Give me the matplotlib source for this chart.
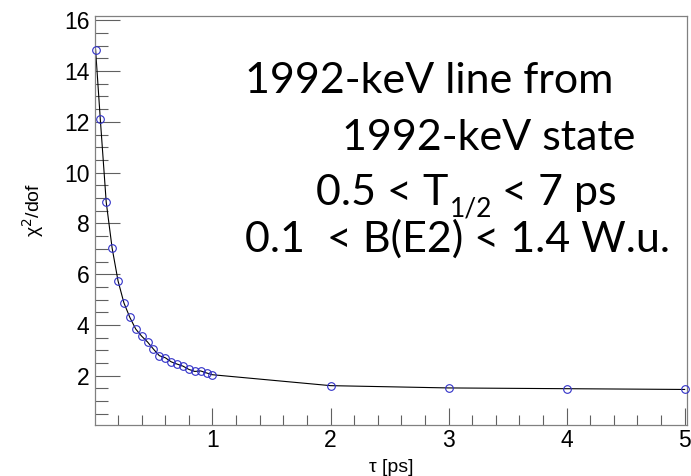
import matplotlib
matplotlib.use("Agg")
import matplotlib.pyplot as plt
from matplotlib.ticker import MultipleLocator, FixedLocator

# chi2/dof scan versus lifetime tau
tau = [0.01, 0.05, 0.10, 0.15, 0.20, 0.25, 0.30, 0.35, 0.40, 0.45, 0.50,
       0.55, 0.60, 0.65, 0.70, 0.75, 0.80, 0.85, 0.90, 0.95, 1.00,
       2.0, 3.0, 4.0, 5.0]
chi2 = [14.84, 12.10, 8.84, 7.03, 5.74, 4.87, 4.30, 3.84, 3.56, 3.33, 3.05,
        2.79, 2.71, 2.55, 2.46, 2.38, 2.25, 2.17, 2.19, 2.11, 2.04,
        1.61, 1.52, 1.49, 1.46]

x_ticks = [1, 2, 3, 4, 5]
y_ticks = [2, 4, 6, 8, 10, 12, 14, 16]

fig = plt.figure(figsize=(6.91, 4.76), dpi=100)
ax = fig.add_axes([95 / 691, 51 / 476, 592 / 691, 409.5 / 476])

ax.plot(tau, chi2, color="black", lw=0.8, zorder=2)
ax.plot(tau, chi2, ls="none", marker="o", ms=5.5, mfc="none", mec="#3030c8",
        mew=0.8, clip_on=False, zorder=3)

ax.set_xlim(0.005, 5.02)
ax.set_ylim(0.06, 16.19)

ax.xaxis.set_major_locator(FixedLocator(x_ticks))
ax.xaxis.set_minor_locator(MultipleLocator(0.2))
ax.yaxis.set_major_locator(FixedLocator(y_ticks))
ax.yaxis.set_minor_locator(MultipleLocator(0.5))

for s in ax.spines.values():
    s.set_color("#808080")
    s.set_linewidth(0.9)

ax.tick_params(which="both", direction="in", top=False, right=False,
               color="#606060", width=0.8, labelsize=16.5,
               labelfontfamily="Liberation Sans")
ax.tick_params(axis="y", which="major", length=18, pad=4)
ax.tick_params(axis="y", which="minor", length=9)
ax.tick_params(axis="x", which="major", length=12, pad=3)
ax.tick_params(axis="x", which="minor", length=7)

# axis titles placed like the ROOT canvas
fig.text(391 / 691, 1 - 467 / 476, "τ [ps]", fontsize=14,
         family="Liberation Sans", ha="center", va="center")
fig.text(33 / 691, 1 - 210 / 476, "χ$^{2}$/dof", fontsize=14,
         family="Liberation Sans", ha="center", va="center", rotation=90)

big = dict(fontsize=31, family="Lato", color="black", va="baseline", ha="left")
fig.text(245 / 691, 1 - 93 / 476, "1992-keV line from", **big)
fig.text(342 / 691, 1 - 150 / 476, "1992-keV state", **big)
fig.text(316 / 691, 1 - 205 / 476, "0.5 < T", **big)
fig.text(450 / 691, 1 - 216 / 476, "1/2", fontsize=19, family="Lato",
         va="baseline", ha="left")
fig.text(502 / 691, 1 - 205 / 476, "< 7 ps", **big)
fig.text(245 / 691, 1 - 252 / 476, "0.1  < B(E2) < 1.4 W.u.", **big)

fig.savefig("out.png", dpi=100)
